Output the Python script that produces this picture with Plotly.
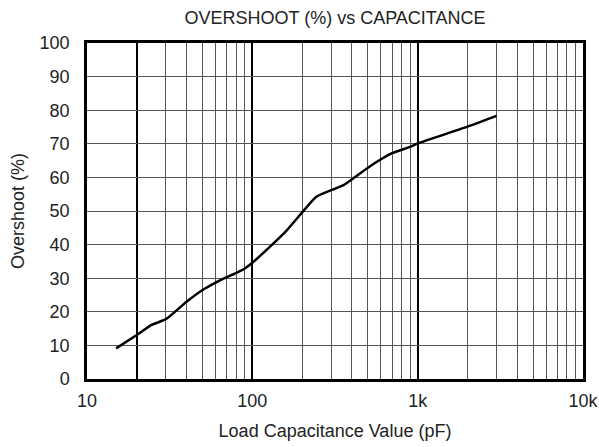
import plotly.graph_objects as go

cap_pf = [15, 20, 24.6, 30, 40, 50, 60, 70, 80, 90, 100, 128, 160, 194, 245, 300, 356, 400, 500, 600, 700, 900, 1000, 2000, 3000]
overshoot = [9.1, 13.1, 16.1, 17.8, 23.0, 26.5, 28.7, 30.3, 31.6, 32.9, 34.6, 39.4, 44.0, 48.8, 54.3, 56.2, 57.7, 59.4, 62.9, 65.4, 67.2, 69.1, 70.1, 75.1, 78.3]

x_tickvals = [10, 20, 100, 1000, 10000]
x_ticktext = ["10", "", "100", "1k", "10k"]
x_minorvals = [30, 40, 50, 60, 70, 80, 90, 200, 300, 400, 500, 600, 700, 800, 900,
               2000, 3000, 4000, 5000, 6000, 7000, 8000, 9000]
y_tickvals = [0, 10, 20, 30, 40, 50, 60, 70, 80, 90, 100]

fig = go.Figure()
fig.add_trace(go.Scatter(x=cap_pf, y=overshoot, mode="lines",
                         line=dict(color="black", width=2.5, shape="spline", smoothing=0.6),
                         showlegend=False))

font = "Liberation Sans, Arial, sans-serif"
fig.update_layout(
    width=599, height=447,
    margin=dict(l=87, r=16, t=43, b=68, autoexpand=False),
    paper_bgcolor="white", plot_bgcolor="white",
    font=dict(family=font, color="#222", size=18),
    title=dict(text="OVERSHOOT (%) vs CAPACITANCE", x=0.5, xref="paper", xanchor="center",
               y=1 - 18 / 447, yref="container", yanchor="middle",
               font=dict(size=18, color="#222")),
)
fig.update_xaxes(
    type="log", range=[1, 4],
    tickvals=x_tickvals, ticktext=x_ticktext, ticks="",
    showgrid=True, gridcolor="black", gridwidth=2,
    minor=dict(tickvals=x_minorvals, showgrid=True, gridcolor="#555", gridwidth=1, ticks=""),
    showline=True, mirror=True, linecolor="black", linewidth=2.5,
    zeroline=False, automargin=False,
    tickfont=dict(size=18), ticklabelstandoff=4,
    title=dict(text="Load Capacitance Value (pF)", font=dict(size=18), standoff=15),
)
fig.update_yaxes(
    range=[0, 100], tickvals=y_tickvals, ticks="",
    showgrid=True, gridcolor="#555", gridwidth=1,
    showline=True, mirror=True, linecolor="black", linewidth=2.5,
    zeroline=False, automargin=False,
    tickfont=dict(size=18), ticklabelstandoff=11,
    title=dict(text="Overshoot (%)", font=dict(size=18), standoff=11),
)

fig.write_html("out.html", config={"displayModeBar": False},
               post_script="document.body.style.margin='0';")
